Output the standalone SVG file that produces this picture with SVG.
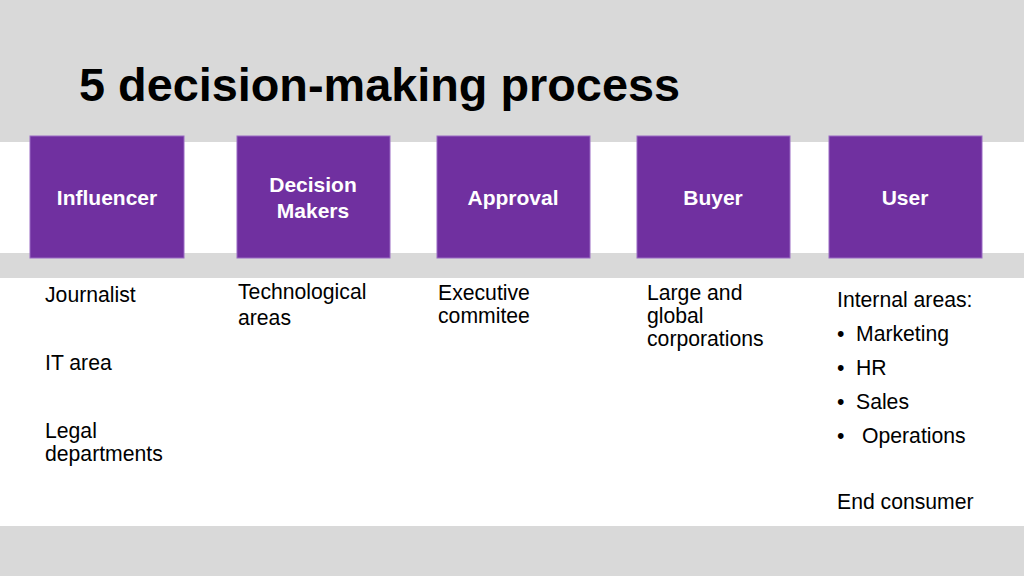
<svg xmlns="http://www.w3.org/2000/svg" width="1024" height="576" viewBox="0 0 1024 576">
<style>
.box{fill:#7030A0;stroke:#9A6BC4;stroke-width:1}
.lbl{font-family:"Liberation Sans",Arial,sans-serif;font-weight:bold;font-size:21px;fill:#ffffff;text-anchor:middle}
.t{font-family:"Liberation Sans",Arial,sans-serif;font-size:21.2px;fill:#000000}
</style>
<rect x="0" y="0" width="1024" height="576" fill="#ffffff"/>
<rect x="0" y="0" width="1024" height="142" fill="#D9D9D9"/>
<rect x="0" y="253" width="1024" height="25" fill="#D9D9D9"/>
<rect x="0" y="526" width="1024" height="50" fill="#D9D9D9"/>
<text x="79" y="101" font-family="'Liberation Sans',Arial,sans-serif" font-weight="bold" font-size="46" fill="#000000" textLength="601" lengthAdjust="spacingAndGlyphs">5 decision-making process</text>
<g id="influencer"><rect class="box" x="30" y="136" width="154" height="122"/><text class="lbl" x="107" y="205">Influencer</text></g>
<g id="decision-makers"><rect class="box" x="237" y="136" width="153" height="122"/><text class="lbl" x="313" y="192">Decision</text><text class="lbl" x="313" y="218">Makers</text></g>
<g id="approval"><rect class="box" x="437" y="136" width="153" height="122"/><text class="lbl" x="513" y="205">Approval</text></g>
<g id="buyer"><rect class="box" x="637" y="136" width="153" height="122"/><text class="lbl" x="713" y="205">Buyer</text></g>
<g id="user"><rect class="box" x="829" y="136" width="153" height="122"/><text class="lbl" x="905" y="205">User</text></g>
<g id="connectors"></g>
<g id="texts">
<text class="t" x="45" y="302">Journalist</text>
<text class="t" x="45" y="370">IT area</text>
<text class="t" x="45" y="438">Legal</text>
<text class="t" x="45" y="461">departments</text>
<text class="t" x="238" y="299">Technological</text>
<text class="t" x="238" y="325">areas</text>
<text class="t" x="438" y="300">Executive</text>
<text class="t" x="438" y="323">commitee</text>
<text class="t" x="647" y="300">Large and</text>
<text class="t" x="647" y="323">global</text>
<text class="t" x="647" y="346">corporations</text>
<text class="t" x="837" y="307">Internal areas:</text>
<text class="t" x="837" y="341">•</text><text class="t" x="856" y="341">Marketing</text>
<text class="t" x="837" y="375">•</text><text class="t" x="856" y="375">HR</text>
<text class="t" x="837" y="409">•</text><text class="t" x="856" y="409">Sales</text>
<text class="t" x="837" y="443">•</text><text class="t" x="862" y="443">Operations</text>
<text class="t" x="837" y="509">End consumer</text>
</g>
</svg>
